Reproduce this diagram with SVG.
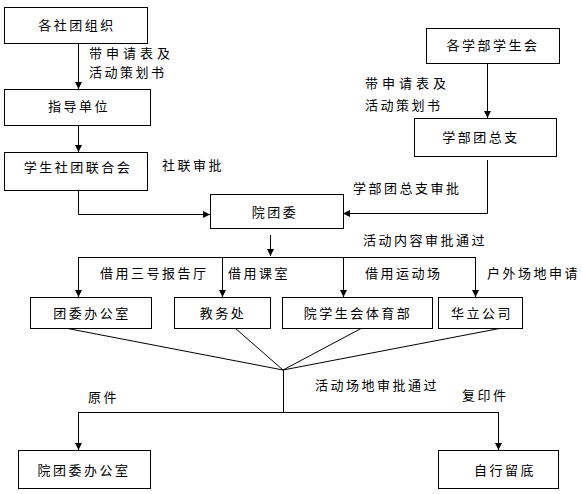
<svg xmlns="http://www.w3.org/2000/svg" width="582" height="494" viewBox="0 0 582 494">
<style>
.box{fill:#fff;stroke:#000;stroke-width:1}
.t{font-family:"Noto Sans CJK SC","Noto Sans CJK JP",sans-serif;font-size:13px;fill:#000;letter-spacing:2.5px}
.c{text-anchor:middle}
.ln{fill:none;stroke:#000;stroke-width:1}
</style>
<defs>
<marker id="ah" markerWidth="8" markerHeight="8" refX="7" refY="4" orient="auto" markerUnits="userSpaceOnUse">
<path d="M0,0.5 L7,4 L0,7.5 Z" fill="#000"/>
</marker>
</defs>
<rect width="582" height="494" fill="#fff"/>
<g id="connectors">
<path class="ln" d="M78.5,43 V89" marker-end="url(#ah)"/>
<path class="ln" d="M78.5,125 V152" marker-end="url(#ah)"/>
<path class="ln" d="M78.5,190 V214.5 H210" marker-end="url(#ah)"/>
<path class="ln" d="M487.5,63 V118" marker-end="url(#ah)"/>
<path class="ln" d="M487.5,160 V213.5 H343" marker-end="url(#ah)"/>
<path class="ln" d="M270.5,235 V256" marker-end="url(#ah)"/>
<path class="ln" d="M78.5,257.5 H475.5"/>
<path class="ln" d="M78.5,257 V297" marker-end="url(#ah)"/>
<path class="ln" d="M222.5,257 V297" marker-end="url(#ah)"/>
<path class="ln" d="M343.5,257 V297" marker-end="url(#ah)"/>
<path class="ln" d="M475.5,257 V297" marker-end="url(#ah)"/>
<path class="ln" d="M65,328 L283,370"/>
<path class="ln" d="M235,328 L283,370"/>
<path class="ln" d="M362,328 L283,370"/>
<path class="ln" d="M502,328 L283,370"/>
<path class="ln" d="M283.5,370 V412"/>
<path class="ln" d="M78.5,412.5 H498.5"/>
<path class="ln" d="M78.5,412 V450" marker-end="url(#ah)"/>
<path class="ln" d="M498.5,412 V450" marker-end="url(#ah)"/>
</g>
<g id="labels">
<text class="t" x="89" y="58" style="letter-spacing:4px">带申请表及</text>
<text class="t" x="89" y="77">活动策划书</text>
<text class="t" x="162" y="170">社联审批</text>
<text class="t" x="365" y="88" style="letter-spacing:4px">带申请表及</text>
<text class="t" x="365" y="110">活动策划书</text>
<text class="t" x="353" y="193">学部团总支审批</text>
<text class="t" x="363" y="245">活动内容审批通过</text>
<text class="t" x="100" y="278">借用三号报告厅</text>
<text class="t" x="228" y="278">借用课室</text>
<text class="t" x="365" y="278">借用运动场</text>
<text class="t" x="487" y="278">户外场地申请</text>
<text class="t" x="88" y="402">原件</text>
<text class="t" x="315" y="390">活动场地审批通过</text>
<text class="t" x="462" y="400">复印件</text>
</g>
<g id="n1"><rect class="box" x="4.5" y="7.5" width="143" height="36"/><text class="t c" x="77" y="30">各社团组织</text></g>
<g id="n2"><rect class="box" x="4.5" y="89.5" width="146" height="36"/><text class="t c" x="79" y="111">指导单位</text></g>
<g id="n3"><rect class="box" x="4.5" y="152.5" width="143" height="38"/><text class="t c" x="78" y="172">学生社团联合会</text></g>
<g id="n4"><rect class="box" x="210.5" y="194.5" width="133" height="34"/><text class="t c" x="275" y="217">院团委</text></g>
<g id="n5"><rect class="box" x="426.5" y="28.5" width="133" height="35"/><text class="t c" x="493" y="50">各学部学生会</text></g>
<g id="n6"><rect class="box" x="414.5" y="118.5" width="142" height="38"/><text class="t c" x="481" y="142">学部团总支</text></g>
<g id="n7"><rect class="box" x="30.5" y="297.5" width="121" height="31"/><text class="t c" x="92" y="318">团委办公室</text></g>
<g id="n8"><rect class="box" x="174.5" y="297.5" width="96" height="31"/><text class="t c" x="223" y="318">教务处</text></g>
<g id="n9"><rect class="box" x="282.5" y="297.5" width="150" height="31"/><text class="t c" x="358" y="318">院学生会体育部</text></g>
<g id="n10"><rect class="box" x="438.5" y="297.5" width="84" height="31"/><text class="t c" x="482" y="318">华立公司</text></g>
<g id="n11"><rect class="box" x="18.5" y="450.5" width="132" height="38"/><text class="t c" x="84" y="475">院团委办公室</text></g>
<g id="n12"><rect class="box" x="438.5" y="450.5" width="120" height="38"/><text class="t c" x="505" y="475">自行留底</text></g>
</svg>
